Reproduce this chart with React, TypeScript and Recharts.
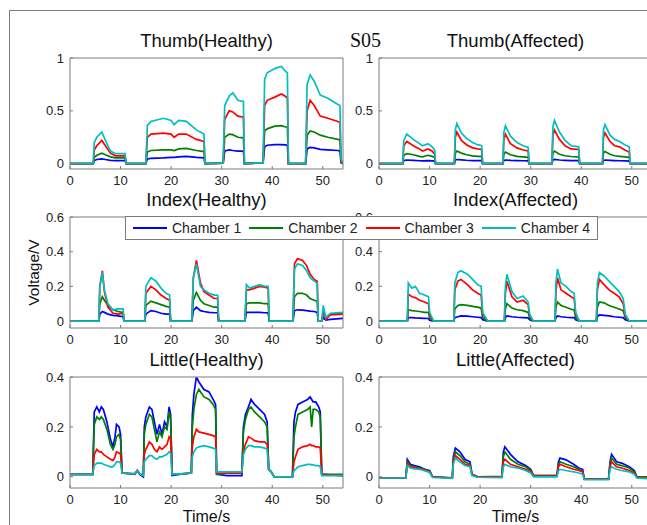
import React from "react";
import { LineChart, Line, XAxis, YAxis, Legend } from "recharts";

// shared bits
const NAMES = ["Chamber 1", "Chamber 2", "Chamber 3", "Chamber 4"];
const COLORS = ["#0000ff", "#008000", "#ff0000", "#00bfbf"];
const X_TICKS = [0, 10, 20, 30, 40, 50];

// Thumb (Healthy)
const TH_T = [0, 4.6, 4.8, 5.3, 6.3, 7.0, 8.0, 9.0, 10.9, 11.1,
  15.0, 15.3, 16.0, 18.5, 20.0, 20.6, 21.5, 23.0, 25.0, 26.5, 26.7,
  30.3, 30.6, 31.5, 32.2, 33.2, 34.3, 34.5,
  38.2, 38.5, 39.0, 40.5, 41.8, 42.5, 43.0, 43.2,
  46.6, 46.9, 47.5, 48.3, 49.5, 51.0, 53.0, 53.4, 53.6, 54];
const TH_C1 = [0, 0, 0.03, 0.04, 0.045, 0.04, 0.032, 0.03, 0.03, 0,
  0, 0.045, 0.05, 0.055, 0.06, 0.06, 0.065, 0.07, 0.06, 0.055, 0,
  0.005, 0.12, 0.13, 0.125, 0.12, 0.12, 0,
  0.01, 0.16, 0.175, 0.18, 0.18, 0.178, 0.175, 0,
  0, 0.14, 0.155, 0.15, 0.135, 0.13, 0.125, 0.12, 0.01, 0];
const TH_C2 = [0, 0, 0.06, 0.08, 0.1, 0.085, 0.065, 0.055, 0.055, 0,
  0, 0.11, 0.125, 0.13, 0.13, 0.125, 0.14, 0.145, 0.125, 0.115, 0,
  0.005, 0.25, 0.28, 0.275, 0.25, 0.245, 0,
  0.01, 0.31, 0.33, 0.355, 0.36, 0.35, 0.345, 0,
  0, 0.27, 0.31, 0.3, 0.27, 0.25, 0.23, 0.225, 0.02, 0];
const TH_C3 = [0, 0, 0.13, 0.17, 0.22, 0.17, 0.1, 0.075, 0.075, 0,
  0, 0.25, 0.28, 0.29, 0.28, 0.25, 0.28, 0.28, 0.23, 0.21, 0,
  0.005, 0.42, 0.5, 0.49, 0.45, 0.44, 0,
  0.01, 0.55, 0.6, 0.63, 0.66, 0.64, 0.62, 0,
  0, 0.5, 0.6, 0.55, 0.45, 0.43, 0.4, 0.39, 0.03, 0];
const TH_C4 = [0, 0, 0.2, 0.25, 0.3, 0.22, 0.12, 0.095, 0.095, 0,
  0, 0.36, 0.4, 0.43, 0.41, 0.37, 0.41, 0.4, 0.32, 0.28, 0,
  0.005, 0.55, 0.64, 0.67, 0.6, 0.59, 0,
  0.01, 0.8, 0.86, 0.9, 0.92, 0.88, 0.86, 0,
  0, 0.75, 0.84, 0.78, 0.65, 0.62, 0.56, 0.55, 0.05, 0];

// Thumb (Affected)
const TA_T = [0, 4.7, 4.9, 5.5, 6.8, 8.0, 8.6, 9.7, 10.5, 11.0, 11.2,
  14.9, 15.1, 15.4, 16.3, 17.3, 18.5, 19.5, 20.3, 20.5,
  24.5, 24.7, 25.0, 26.0, 27.3, 28.5, 29.5, 29.7,
  34.2, 34.4, 34.7, 35.7, 36.8, 38.0, 39.5, 39.7,
  44.2, 44.4, 44.7, 45.7, 46.6, 47.6, 48.6, 49.5, 49.7, 54];
const TA_C1 = [0, 0, 0.03, 0.035, 0.032, 0.028, 0.027, 0.03, 0.027, 0.025, 0,
  0, 0.035, 0.04, 0.037, 0.033, 0.03, 0.03, 0.03, 0,
  0, 0.03, 0.035, 0.032, 0.03, 0.028, 0.027, 0,
  0, 0.035, 0.04, 0.035, 0.032, 0.03, 0.03, 0,
  0, 0.03, 0.035, 0.032, 0.03, 0.028, 0.026, 0.025, 0, 0];
const TA_C2 = [0, 0, 0.08, 0.095, 0.085, 0.07, 0.065, 0.08, 0.07, 0.06, 0,
  0, 0.1, 0.12, 0.1, 0.085, 0.075, 0.07, 0.07, 0,
  0, 0.09, 0.11, 0.085, 0.07, 0.065, 0.06, 0,
  0, 0.1, 0.12, 0.09, 0.075, 0.068, 0.065, 0,
  0, 0.1, 0.115, 0.09, 0.075, 0.07, 0.065, 0.06, 0, 0];
const TA_C3 = [0, 0, 0.17, 0.21, 0.17, 0.14, 0.12, 0.14, 0.12, 0.09, 0,
  0, 0.25, 0.3, 0.22, 0.18, 0.15, 0.14, 0.135, 0,
  0, 0.23, 0.28, 0.19, 0.15, 0.13, 0.12, 0,
  0, 0.27, 0.32, 0.23, 0.17, 0.14, 0.135, 0,
  0, 0.25, 0.29, 0.21, 0.17, 0.16, 0.13, 0.11, 0, 0];
const TA_C4 = [0, 0, 0.22, 0.28, 0.23, 0.19, 0.17, 0.19, 0.16, 0.13, 0,
  0, 0.32, 0.38, 0.29, 0.24, 0.2, 0.18, 0.17, 0,
  0, 0.3, 0.36, 0.26, 0.2, 0.17, 0.155, 0,
  0, 0.35, 0.41, 0.3, 0.22, 0.17, 0.16, 0,
  0, 0.32, 0.37, 0.27, 0.23, 0.21, 0.18, 0.16, 0, 0];

// Index (Healthy)
const IH_T = [0, 5.7, 5.9, 6.4, 6.8, 7.5, 8.5, 9.5, 10.5, 10.7,
  14.8, 15.0, 16.0, 17.0, 18.0, 19.0, 19.7, 19.9,
  24.1, 24.4, 25.0, 25.8, 26.5, 27.5, 28.5, 29.2, 29.4,
  34.6, 34.9, 35.5, 36.5, 37.5, 38.5, 39.2, 39.4,
  44.1, 44.4, 45.0, 46.0, 46.8, 47.5, 48.3, 48.9, 49.1,
  49.8, 50.1, 50.6, 51.5, 54];
const IH_C1 = [0, 0, 0.04, 0.055, 0.05, 0.04, 0.033, 0.03, 0.025, 0,
  0, 0.04, 0.06, 0.055, 0.045, 0.04, 0.04, 0,
  0, 0.06, 0.08, 0.06, 0.055, 0.05, 0.048, 0.048, 0,
  0, 0.05, 0.05, 0.05, 0.05, 0.048, 0.047, 0,
  0, 0.06, 0.065, 0.063, 0.06, 0.057, 0.055, 0.05, 0,
  0, 0.02, 0.005, 0.01, 0.015];
const IH_C2 = [0, 0, 0.1, 0.14, 0.12, 0.09, 0.065, 0.055, 0.05, 0,
  0, 0.09, 0.115, 0.105, 0.095, 0.085, 0.08, 0,
  0, 0.12, 0.165, 0.12, 0.1, 0.09, 0.08, 0.08, 0,
  0, 0.1, 0.105, 0.105, 0.105, 0.1, 0.1, 0,
  0, 0.14, 0.16, 0.16, 0.15, 0.13, 0.12, 0.115, 0,
  0, 0.06, 0.02, 0.04, 0.045];
const IH_C3 = [0, 0, 0.2, 0.29, 0.17, 0.08, 0.045, 0.04, 0.045, 0,
  0, 0.16, 0.2, 0.18, 0.15, 0.13, 0.12, 0,
  0, 0.25, 0.35, 0.22, 0.17, 0.15, 0.13, 0.13, 0,
  0, 0.18, 0.18, 0.19, 0.2, 0.195, 0.19, 0,
  0, 0.33, 0.36, 0.35, 0.32, 0.27, 0.24, 0.23, 0,
  0, 0.06, 0.01, 0.035, 0.04];
const IH_C4 = [0, 0, 0.2, 0.28, 0.18, 0.1, 0.065, 0.07, 0.07, 0,
  0, 0.2, 0.25, 0.23, 0.19, 0.16, 0.15, 0,
  0, 0.25, 0.33, 0.2, 0.18, 0.16, 0.15, 0.15, 0,
  0, 0.21, 0.19, 0.2, 0.21, 0.2, 0.2, 0,
  0, 0.3, 0.33, 0.32, 0.29, 0.25, 0.23, 0.22, 0,
  0, 0.09, 0.02, 0.045, 0.05];

// Index (Affected)
const IA_T = [0, 5.6, 5.8, 6.5, 7.2, 8.0, 9.0, 9.8, 10.0, 10.8,
  14.8, 15.0, 15.6, 16.2, 17.5, 18.5, 19.5, 20.2, 20.5, 21.5,
  24.8, 25.0, 25.3, 26.3, 27.3, 28.5, 29.5, 29.8, 30.5,
  34.8, 35.0, 35.3, 36.0, 37.0, 38.0, 38.6, 38.9, 39.6,
  43.0, 43.2, 43.6, 44.5, 45.5, 46.5, 47.5, 48.3, 48.7, 49.5, 54];
const IA_C1 = [0, 0, 0.02, 0.02, 0.018, 0.017, 0.016, 0.015, 0.005, 0,
  0, 0.02, 0.025, 0.03, 0.028, 0.025, 0.022, 0.02, 0.008, 0,
  0, 0.02, 0.03, 0.025, 0.022, 0.02, 0.018, 0.008, 0,
  0, 0.02, 0.03, 0.025, 0.022, 0.02, 0.02, 0.008, 0,
  0, 0.025, 0.035, 0.033, 0.03, 0.025, 0.022, 0.02, 0.008, 0, 0];
const IA_C2 = [0, 0, 0.065, 0.06, 0.058, 0.055, 0.05, 0.05, 0.02, 0,
  0, 0.07, 0.09, 0.095, 0.09, 0.085, 0.08, 0.075, 0.02, 0,
  0, 0.07, 0.1, 0.075, 0.065, 0.06, 0.05, 0.02, 0,
  0, 0.08, 0.11, 0.09, 0.08, 0.068, 0.065, 0.02, 0,
  0, 0.08, 0.11, 0.105, 0.09, 0.08, 0.07, 0.06, 0.02, 0, 0];
const IA_C3 = [0, 0, 0.155, 0.14, 0.135, 0.12, 0.11, 0.1, 0.04, 0,
  0, 0.18, 0.23, 0.24, 0.21, 0.18, 0.16, 0.15, 0.04, 0,
  0, 0.16, 0.23, 0.14, 0.11, 0.12, 0.095, 0.03, 0,
  0, 0.17, 0.25, 0.18, 0.16, 0.14, 0.13, 0.04, 0,
  0, 0.18, 0.24, 0.21, 0.18, 0.16, 0.14, 0.1, 0.03, 0, 0];
const IA_C4 = [0, 0, 0.22, 0.19, 0.2, 0.16, 0.15, 0.14, 0.05, 0,
  0, 0.22, 0.28, 0.29, 0.27, 0.24, 0.21, 0.2, 0.05, 0,
  0, 0.2, 0.27, 0.17, 0.13, 0.145, 0.11, 0.04, 0,
  0, 0.22, 0.3, 0.22, 0.2, 0.17, 0.16, 0.05, 0,
  0, 0.22, 0.28, 0.26, 0.23, 0.2, 0.17, 0.13, 0.04, 0, 0];

// Little (Healthy)
const LH_T = [0, 4.5, 4.8, 5.3, 5.8, 6.2, 6.6, 7.3, 8.0, 8.5, 8.9, 9.2, 9.7, 10.0, 10.3,
  12.8, 13.3, 13.8, 14.5,
  14.7, 15.0, 15.7, 16.2, 16.7, 17.2, 17.7, 18.2, 18.7, 19.2, 19.6, 19.9, 20.2,
  22.0, 24.0,
  24.2, 24.5, 25.0, 25.5, 26.5, 27.5, 28.3, 28.8, 29.0,
  31.0, 34.0,
  34.3, 34.7, 35.3, 35.8, 36.5, 37.5, 38.5, 39.0, 39.3, 39.8, 40.4,
  44.0,
  44.3, 44.6, 45.1, 46.0, 47.0, 47.5, 47.8, 48.1, 48.6, 49.2, 49.5, 49.8,
  54];
const LH_C1 = [0.01, 0.01, 0.26, 0.28, 0.26, 0.28, 0.27, 0.22, 0.15, 0.12, 0.16, 0.21, 0.2, 0.17, 0.015,
  0.01, 0.025, 0.01, 0.0,
  0.2, 0.24, 0.28, 0.27, 0.22, 0.17, 0.21, 0.17, 0.22, 0.2, 0.28, 0.25, 0.005,
  0.01, 0.015,
  0.25, 0.33, 0.4, 0.38, 0.35, 0.34, 0.31, 0.29, 0.01,
  0.005, 0.005,
  0.2, 0.25, 0.28, 0.31, 0.29, 0.27, 0.25, 0.22, 0.03, 0.02, 0.0,
  0.0,
  0.22, 0.26, 0.29, 0.3, 0.31, 0.32, 0.31, 0.3, 0.3, 0.28, 0.26, 0.01,
  0.005];
const LH_C2 = [0.01, 0.01, 0.21, 0.24, 0.23, 0.24, 0.23, 0.19, 0.13, 0.11, 0.13, 0.16, 0.17, 0.15, 0.015,
  0.012, 0.025, 0.012, 0.005,
  0.17, 0.21, 0.25, 0.24, 0.19, 0.14, 0.18, 0.16, 0.2, 0.19, 0.26, 0.23, 0.01,
  0.012, 0.015,
  0.2, 0.27, 0.33, 0.35, 0.32, 0.31, 0.29, 0.27, 0.01,
  0.015, 0.015,
  0.18, 0.23, 0.27, 0.28, 0.26, 0.24, 0.22, 0.2, 0.03, 0.02, 0.0,
  0.0,
  0.16, 0.2, 0.25, 0.26, 0.27, 0.28, 0.2, 0.27, 0.27, 0.26, 0.24, 0.01,
  0.01];
const LH_C3 = [0.01, 0.01, 0.09, 0.11, 0.1, 0.1, 0.09, 0.08, 0.07, 0.065, 0.08, 0.1, 0.095, 0.09, 0.015,
  0.012, 0.025, 0.012, 0.005,
  0.09, 0.11, 0.14, 0.13, 0.11, 0.1, 0.12, 0.11, 0.12, 0.13, 0.16, 0.15, 0.01,
  0.012, 0.015,
  0.12, 0.16, 0.19, 0.18, 0.175, 0.17, 0.165, 0.16, 0.015,
  0.015, 0.015,
  0.1, 0.13, 0.16, 0.155, 0.145, 0.14, 0.14, 0.13, 0.03, 0.02, 0.0,
  0.0,
  0.06, 0.08, 0.11, 0.12, 0.125, 0.13, 0.125, 0.125, 0.12, 0.12, 0.115, 0.01,
  0.005];
const LH_C4 = [0.01, 0.01, 0.045, 0.055, 0.055, 0.055, 0.05, 0.045, 0.04, 0.04, 0.05, 0.06, 0.06, 0.055, 0.015,
  0.012, 0.025, 0.012, 0.005,
  0.06, 0.07, 0.085, 0.085, 0.075, 0.07, 0.08, 0.08, 0.085, 0.09, 0.1, 0.095, 0.01,
  0.012, 0.015,
  0.08, 0.1, 0.115, 0.12, 0.125, 0.12, 0.115, 0.11, 0.02,
  0.02, 0.02,
  0.09, 0.11, 0.125, 0.125, 0.12, 0.12, 0.115, 0.11, 0.03, 0.02, 0.0,
  0.0,
  0.025, 0.03, 0.04, 0.045, 0.05, 0.05, 0.048, 0.048, 0.045, 0.045, 0.04, 0.005,
  0.005];

// Little (Affected)
const LA_T = [0, 5.3, 5.6, 6.2, 7.0, 8.0, 9.0, 10.0, 10.6,
  14.5,
  14.7, 15.1, 16.0, 17.0, 18.0, 18.4, 19.5,
  24.3,
  24.6, 24.9, 26.0, 27.5, 29.0, 30.0, 30.6,
  35.2,
  35.5, 35.8, 37.0, 38.5, 39.5, 40.3, 40.6,
  45.4,
  45.7, 46.0, 47.0, 48.0, 49.5, 50.5, 51.0,
  54];
const LA_C1 = [-0.005, -0.005, 0.07, 0.05, 0.045, 0.04, 0.03, 0.025, 0.0,
  -0.005,
  0.08, 0.115, 0.1, 0.07, 0.06, 0.01, 0.0,
  0.0,
  0.1, 0.12, 0.09, 0.06, 0.045, 0.03, 0.005,
  0.005,
  0.06, 0.075, 0.068, 0.05, 0.035, 0.03, -0.01,
  -0.01,
  0.06, 0.09, 0.06, 0.055, 0.04, 0.025, 0.0,
  -0.005];
const LA_C2 = [-0.005, -0.005, 0.06, 0.045, 0.04, 0.035, 0.03, 0.022, 0.0,
  -0.004,
  0.07, 0.1, 0.085, 0.06, 0.05, 0.01, 0.0,
  0.002,
  0.08, 0.1, 0.07, 0.05, 0.04, 0.025, 0.005,
  0.005,
  0.05, 0.06, 0.05, 0.04, 0.03, 0.02, -0.01,
  -0.01,
  0.05, 0.075, 0.05, 0.045, 0.035, 0.02, 0.0,
  0.0];
const LA_C3 = [-0.005, -0.005, 0.055, 0.04, 0.037, 0.032, 0.027, 0.02, 0.0,
  -0.005,
  0.06, 0.085, 0.07, 0.05, 0.045, 0.008, 0.0,
  0.0,
  0.06, 0.07, 0.05, 0.04, 0.03, 0.02, 0.003,
  0.004,
  0.04, 0.05, 0.04, 0.03, 0.025, 0.02, -0.01,
  -0.01,
  0.04, 0.06, 0.04, 0.035, 0.025, 0.015, -0.002,
  -0.005];
const LA_C4 = [-0.005, -0.005, 0.045, 0.035, 0.032, 0.03, 0.024, 0.017, -0.003,
  -0.006,
  0.05, 0.075, 0.06, 0.045, 0.04, 0.005, -0.002,
  -0.003,
  0.04, 0.05, 0.04, 0.035, 0.025, 0.015, 0.0,
  0.0,
  0.025, 0.03, 0.025, 0.02, 0.015, 0.01, -0.012,
  -0.012,
  0.03, 0.04, 0.03, 0.025, 0.02, 0.01, -0.005,
  -0.008];

const toRows = (t: number[], s: number[][]) =>
  t.map((x, i) => ({ t: x, c1: s[0][i], c2: s[1][i], c3: s[2][i], c4: s[3][i] }));

const AXIS = "#7a7a7a";
const PLOT_W = 273;
const PLOT_H = 111;
const AXIS_W = 45;
const TOP_M = 30;

function LegendBox(props: any) {
  const items = props.payload || [];
  return (
    <div style={{ display: "flex", alignItems: "center", height: 24, boxSizing: "border-box",
      border: `1px solid ${AXIS}`, background: "#fff", paddingLeft: 7 }}>
      {items.map((p: any) => (
        <div key={p.value} style={{ display: "flex", alignItems: "center", marginRight: 8 }}>
          <span style={{ display: "inline-block", width: 34, borderTop: `2px solid ${p.color}`, marginRight: 5 }} />
          <span style={{ fontSize: 14, color: "#222", whiteSpace: "nowrap" }}>{p.value}</span>
        </div>
      ))}
    </div>
  );
}

interface PanelProps {
  data: { t: number; c1: number; c2: number; c3: number; c4: number }[];
  title: string;
  left: number;
  top: number;
  yDomain: [number, number];
  yTicks: number[];
  xLabel?: string;
  yLabel?: string;
  legend?: boolean;
}

function Panel({ data, title, left, top, yDomain, yTicks, xLabel, yLabel, legend }: PanelProps) {
  const bottomM = xLabel ? 14 : 0;
  const tickStyle = { fontSize: 13, fill: "#222" };
  // top/right axes are 1px wide, so margins are one less
  return (
    <div style={{ position: "absolute", left: left - AXIS_W, top: top - TOP_M }}>
      <LineChart width={AXIS_W + PLOT_W + 6} height={TOP_M + PLOT_H + 26 + bottomM} data={data}
        margin={{ top: TOP_M - 1, right: 5, bottom: bottomM, left: 0 }}>
        <XAxis xAxisId="b" dataKey="t" type="number" domain={[0, 54]} ticks={X_TICKS} interval={0}
          allowDataOverflow stroke={AXIS} tickSize={-3} tickMargin={10} height={26} tick={tickStyle}
          label={xLabel ? { value: xLabel, position: "bottom", offset: -3, fontSize: 16, fill: "#111" } : undefined} />
        <XAxis xAxisId="t" orientation="top" dataKey="t" type="number" domain={[0, 54]} ticks={X_TICKS}
          interval={0} allowDataOverflow stroke={AXIS} tickSize={-3} height={1} tick={false}
          label={{ value: title, position: "top", offset: 10, fontSize: 18.5, fill: "#111" }} />
        <YAxis yAxisId="l" type="number" domain={yDomain} ticks={yTicks} interval={0} allowDataOverflow
          stroke={AXIS} tickSize={-3} tickMargin={9} width={AXIS_W} tick={tickStyle}
          label={yLabel ? { value: yLabel, angle: -90, position: "insideLeft", offset: 8, fontSize: 15.5,
            fill: "#111", style: { textAnchor: "middle" } } : undefined} />
        <YAxis yAxisId="r" orientation="right" type="number" domain={yDomain} ticks={yTicks} interval={0}
          allowDataOverflow stroke={AXIS} tickSize={-3} width={1} tick={false} />
        {["c1", "c2", "c3", "c4"].map((k, i) => (
          <Line key={k} xAxisId="b" yAxisId="l" type="linear" dataKey={k} name={NAMES[i]}
            stroke={COLORS[i]} strokeWidth={1.7} dot={false} isAnimationActive={false} />
        ))}
        {legend && (
          <Legend layout="horizontal" verticalAlign="middle" align="center"
            wrapperStyle={{ left: 100, top: 29, width: 473, height: 24, zIndex: 10 }}
            content={(p: any) => <LegendBox {...p} />} />
        )}
      </LineChart>
    </div>
  );
}

const LEFT = 70;
const RIGHT = 379;
const ROWS = [58, 217, 377];

export default function App() {
  return (
    <div style={{ position: "absolute", left: 0, top: 0, width: 647, height: 525, overflow: "hidden",
      background: "#fff", fontFamily: '"Liberation Sans", Arial, sans-serif' }}>
      <div style={{ position: "absolute", left: 9, top: 10, width: 700, height: 600,
        borderLeft: `1px solid ${AXIS}`, borderTop: `1px solid ${AXIS}` }} />
      <Panel data={toRows(TH_T, [TH_C1, TH_C2, TH_C3, TH_C4])} title="Thumb(Healthy)" left={LEFT} top={ROWS[0]}
        yDomain={[-0.05, 1]} yTicks={[0, 0.5, 1]} />
      <Panel data={toRows(TA_T, [TA_C1, TA_C2, TA_C3, TA_C4])} title="Thumb(Affected)" left={RIGHT} top={ROWS[0]}
        yDomain={[-0.05, 1]} yTicks={[0, 0.5, 1]} />
      <Panel data={toRows(IA_T, [IA_C1, IA_C2, IA_C3, IA_C4])} title="Index(Affected)" left={RIGHT} top={ROWS[1]}
        yDomain={[-0.04, 0.6]} yTicks={[0, 0.2, 0.4, 0.6]} />
      <Panel data={toRows(IH_T, [IH_C1, IH_C2, IH_C3, IH_C4])} title="Index(Healthy)" left={LEFT} top={ROWS[1]}
        yDomain={[-0.04, 0.6]} yTicks={[0, 0.2, 0.4, 0.6]} yLabel="Voltage/V" legend />
      <Panel data={toRows(LH_T, [LH_C1, LH_C2, LH_C3, LH_C4])} title="Little(Healthy)" left={LEFT} top={ROWS[2]}
        yDomain={[-0.045, 0.4]} yTicks={[0, 0.2, 0.4]} xLabel="Time/s" />
      <Panel data={toRows(LA_T, [LA_C1, LA_C2, LA_C3, LA_C4])} title="Little(Affected)" left={RIGHT} top={ROWS[2]}
        yDomain={[-0.045, 0.4]} yTicks={[0, 0.2, 0.4]} xLabel="Time/s" />
      <div style={{ position: "absolute", left: 350, top: 30, fontFamily: '"Liberation Serif", "Times New Roman", serif',
        fontSize: 20, lineHeight: "20px", color: "#111" }}>S05</div>
    </div>
  );
}
